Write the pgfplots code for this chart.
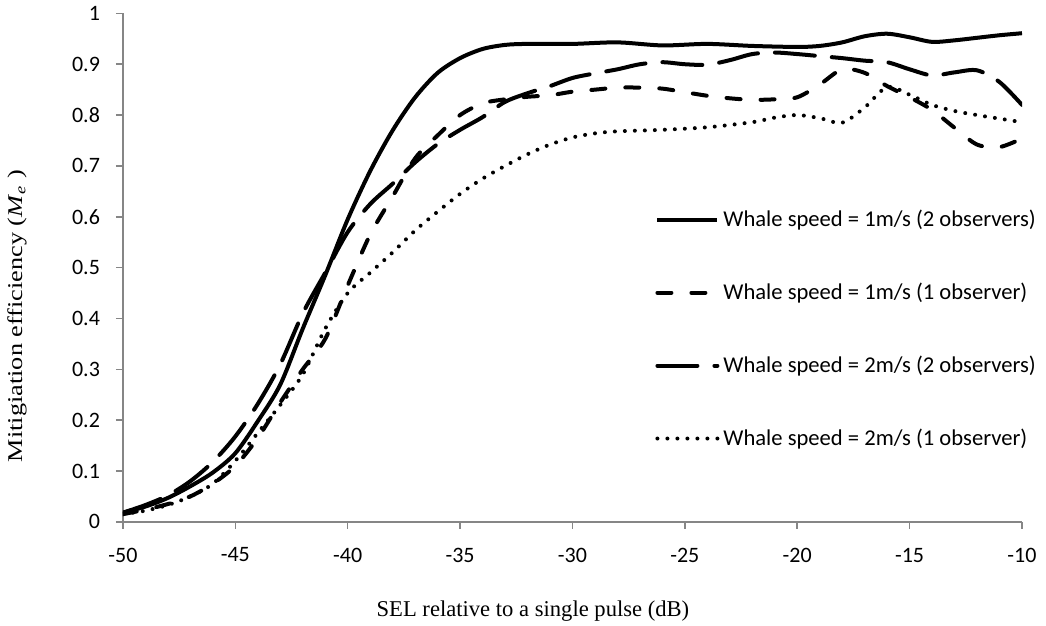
\documentclass[border=0pt]{standalone}
\usepackage{fontspec}
\usepackage{graphicx}
\setmainfont{Liberation Serif}
\newfontfamily\calibri{Carlito}
\usepackage{pgfplots}
\pgfplotsset{compat=1.18}
\definecolor{axgray}{RGB}{134,134,134}
\begin{document}
\begin{tikzpicture}
\useasboundingbox (-61.5pt,-51.85pt) rectangle (461.5pt,260.9pt);
\begin{axis}[
  scale only axis, width=449.5pt, height=254.2pt,
  xmin=-50, xmax=-10, ymin=0, ymax=1,
  axis lines*=left,
  axis line style={draw=axgray, line width=0.75pt},
  xtick={-50,-45,-40,-35,-30,-25,-20,-15,-10},
  ytick={0,0.1,0.2,0.3,0.4,0.5,0.6,0.7,0.8,0.9,1},
  tick align=outside, major tick length=3.5pt,
  tick style={draw=axgray, line width=0.75pt},
  /pgf/number format/assume math mode=true,
  ticklabel style={font=\calibri\fontsize{11}{13}\selectfont},
  xticklabel style={yshift=-6pt},
  yticklabel style={xshift=-4.5pt},
  xlabel={SEL relative to a single pulse (dB)},
  ylabel={\scalebox{1.25}[1]{Mitigiation efficiency (\textit{M}\textsubscript{\textit{e}} )}},
  xlabel style={font=\fontsize{11.3}{13}\selectfont, at={(axis description cs:0.456,-0.1757)}, anchor=center},
  ylabel style={font=\fontsize{10.5}{12}\selectfont, at={(axis description cs:-0.1179,0.405)}, anchor=center},
  legend style={at={(rel axis cs:0.5918,0.622)}, anchor=north west, draw=none, fill=none,
    inner sep=0pt, row sep=22.7pt, column sep=0pt, font=\calibri\fontsize{11.3}{13}\selectfont},
  legend cell align=left,
  legend image code/.code={\draw[#1] (0pt,0pt) -- (30pt,0pt);},
]
\addplot[black, line width=2pt, smooth] coordinates {
(-50,0.018) (-49,0.03) (-48,0.047) (-47,0.07) (-46,0.097) (-45,0.135) (-44,0.198)
(-43,0.27) (-42,0.38) (-41,0.485) (-40,0.595) (-39,0.69) (-38,0.77) (-37,0.835)
(-36,0.883) (-35,0.912) (-34,0.93) (-33,0.938) (-32,0.94) (-30,0.94) (-28,0.943)
(-26,0.937) (-24,0.94) (-22,0.936) (-20,0.934) (-19,0.936) (-18,0.943) (-17,0.955)
(-16,0.96) (-15,0.953) (-14,0.944) (-13,0.947) (-12,0.952) (-11,0.957) (-10,0.961)
};
\addlegendentry{Whale speed = 1m/s (2 observers)}
\addplot[black, line width=2pt, line cap=round, dash pattern=on 7pt off 10pt, smooth] coordinates {
(-50,0.015) (-49,0.024) (-48,0.035) (-47,0.05) (-46,0.075) (-45,0.11) (-44,0.165)
(-43,0.235) (-42,0.3) (-41,0.36) (-40,0.465) (-39,0.565) (-38,0.64) (-37,0.715)
(-36,0.76) (-35,0.8) (-34,0.823) (-33,0.831) (-32,0.836) (-31,0.839) (-30,0.846)
(-29,0.85) (-28,0.854) (-27,0.854) (-26,0.852) (-25,0.845) (-24,0.838) (-23,0.833)
(-22,0.83) (-21,0.831) (-20,0.835) (-19,0.86) (-18,0.89) (-17,0.883) (-16,0.857)
(-15,0.835) (-14,0.81) (-13,0.775) (-12,0.742) (-11,0.737) (-10,0.754)
};
\addlegendentry{Whale speed = 1m/s (1 observer)}
\addplot[black, line width=2pt, line cap=round, dash pattern=on 20pt off 8.5pt, smooth] coordinates {
(-50,0.018) (-49,0.033) (-48,0.052) (-47,0.08) (-46,0.118) (-45,0.168) (-44,0.232)
(-43,0.31) (-42,0.41) (-41,0.49) (-40,0.57) (-39,0.625) (-38,0.665) (-37,0.707)
(-36,0.743) (-35,0.771) (-34,0.796) (-33,0.826) (-32,0.843) (-31,0.857) (-30,0.873)
(-29,0.882) (-28,0.89) (-27,0.9) (-26,0.904) (-25,0.9) (-24,0.899) (-23,0.908)
(-22,0.92) (-21,0.923) (-20,0.92) (-19,0.916) (-18,0.912) (-17,0.907) (-16,0.904)
(-15,0.89) (-14,0.878) (-13,0.884) (-12,0.888) (-11,0.865) (-10,0.82)
};
\addlegendentry{Whale speed = 2m/s (2 observers)}
\addplot[black, line width=2pt, line cap=round, dash pattern=on 0pt off 5pt, smooth] coordinates {
(-50,0.015) (-49,0.022) (-48,0.033) (-47,0.05) (-46,0.075) (-45,0.12) (-44,0.175)
(-43,0.23) (-42,0.29) (-41,0.38) (-40,0.45) (-39,0.49) (-38,0.53) (-37,0.573)
(-36,0.61) (-35,0.645) (-34,0.675) (-33,0.7) (-32,0.723) (-31,0.742) (-30,0.756)
(-29,0.764) (-28,0.768) (-26,0.771) (-24,0.776) (-22,0.786) (-21,0.795) (-20,0.8)
(-19,0.794) (-18,0.785) (-17,0.815) (-16,0.855) (-15,0.84) (-14,0.82) (-13,0.808)
(-12,0.8) (-11,0.793) (-10,0.786)
};
\addlegendentry{Whale speed = 2m/s (1 observer)}
\end{axis}
\end{tikzpicture}
\end{document}
